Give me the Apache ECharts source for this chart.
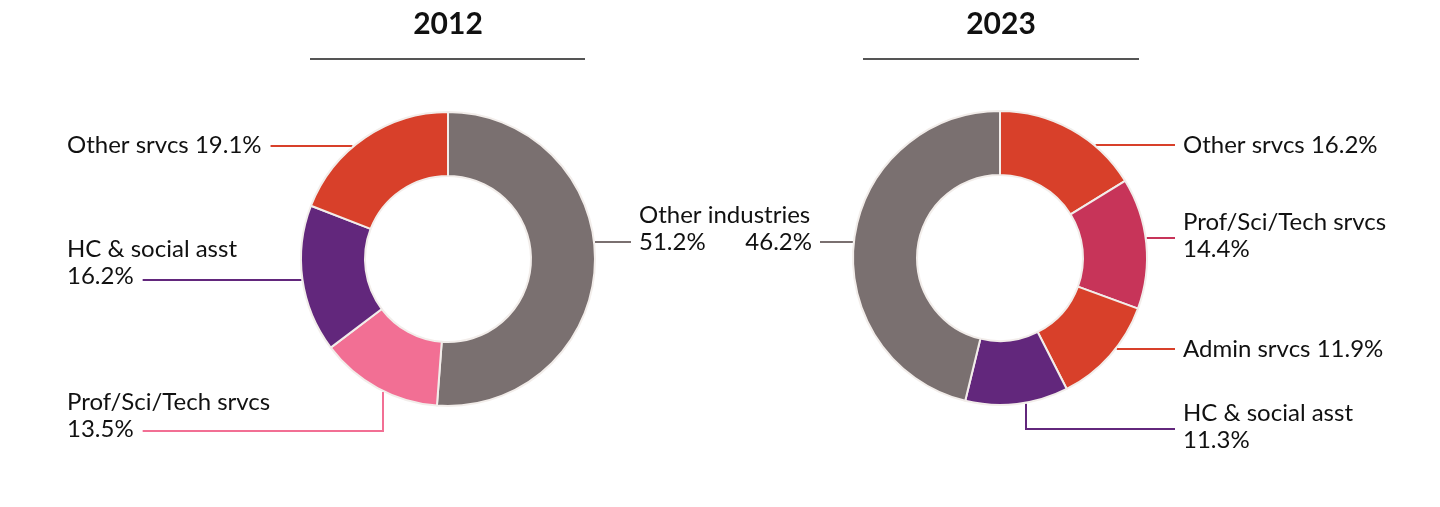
<!DOCTYPE html>
<html>
<head>
<meta charset="utf-8">
<script src="https://cdn.jsdelivr.net/npm/echarts@6/dist/echarts.min.js"></script>
<style>
  html, body { margin: 0; padding: 0; background: #fff; }
  #main { width: 1440px; height: 507px; }
</style>
</head>
<body>
<div id="main"></div>
<script>
// data
var years = ['2012', '2023'];
var names2012 = ['Other industries', 'Prof/Sci/Tech srvcs', 'HC & social asst', 'Other srvcs'];
var values2012 = [51.2, 13.5, 16.2, 19.1];
var names2023 = ['Other srvcs', 'Prof/Sci/Tech srvcs', 'Admin srvcs', 'HC & social asst', 'Other industries'];
var values2023 = [16.2, 14.4, 11.9, 11.3, 46.2];

var colors2012 = ['#7a7070', '#f26f94', '#62277c', '#d8402a'];
var colors2023 = ['#d8402a', '#c73459', '#d8402a', '#62277c', '#7a7070'];

var FONT = 'Lato';
var FONT_SIZE = 24;

// label placement: where text sits and where its leader line runs
var place2012 = [
    { x: 639, y: 229, align: 'left', lineY: 242, fmt: 'two' },
    { x: 67, y: 416, align: 'left', lineY: 431, elbowX: 383, fmt: 'two' },
    { x: 67, y: 263, align: 'left', lineY: 280, fmt: 'two' },
    { x: 67, y: 145, align: 'left', lineY: 146, fmt: 'one' }
];
var place2023 = [
    { x: 1183, y: 145, align: 'left', lineY: 145, fmt: 'one' },
    { x: 1183, y: 236, align: 'left', lineY: 238, fmt: 'two' },
    { x: 1183, y: 349, align: 'left', lineY: 349, fmt: 'one' },
    { x: 1183, y: 427, align: 'left', lineY: 429, elbowX: 1026, fmt: 'two' },
    { x: 812, y: 242, align: 'right', lineY: 242, fmt: 'value' }
];

var centers = [[448, 259], [1000, 258]];
var R_IN = 83, R_OUT = 147, R_EDGE = 148;

var ctx = document.createElement('canvas').getContext('2d');
ctx.font = FONT_SIZE + 'px ' + FONT;
function textW(s) { return ctx.measureText(s).width; }

function pct(v) { return v.toFixed(1) + '%'; }

function makeFormatter(place) {
    return function(p) {
        var f = place[p.dataIndex].fmt;
        if (f === 'two') return p.name + '\n' + pct(p.value);
        if (f === 'value') return pct(p.value);
        return p.name + ' ' + pct(p.value);
    };
}

function makeLayout(place, center, names, values) {
    return function(params) {
        var p = place[params.dataIndex];
        var cx = center[0], cy = center[1];
        var lastLine = p.fmt === 'one' ? names[params.dataIndex] + ' ' + pct(values[params.dataIndex]) : pct(values[params.dataIndex]);
        var end;
        if (p.x > cx) {
            end = p.align === 'left' ? p.x - 8 : p.x + 8;
        } else {
            end = p.align === 'left' ? p.x + textW(lastLine) + 9 : p.x + 8;
        }
        var pts;
        if (p.elbowX != null) {
            var dy = Math.sqrt(R_EDGE * R_EDGE - (p.elbowX - cx) * (p.elbowX - cx));
            pts = [[p.elbowX, cy + dy], [p.elbowX, p.lineY], [end, p.lineY]];
        } else {
            var dx = Math.sqrt(R_EDGE * R_EDGE - (p.lineY - cy) * (p.lineY - cy));
            var sx = end > cx ? cx + dx : cx - dx;
            pts = [[sx, p.lineY], [(sx + end) / 2, p.lineY], [end, p.lineY]];
        }
        return {
            x: p.x,
            y: p.y,
            align: p.align,
            verticalAlign: 'middle',
            labelLinePoints: pts
        };
    };
}

function buildSeries(names, values, colors, place, center) {
    return {
        type: 'pie',
        center: center,
        radius: [R_IN, R_OUT],
        startAngle: 90,
        clockwise: true,
        avoidLabelOverlap: false,
        emphasis: { disabled: true },
        itemStyle: { borderColor: '#f2edea', borderWidth: 2 },
        label: {
            show: true,
            position: 'outside',
            formatter: makeFormatter(place),
            color: '#111',
            fontFamily: FONT,
            fontSize: FONT_SIZE,
            lineHeight: 27
        },
        labelLine: { show: true, smooth: false, lineStyle: { width: 2 } },
        labelLayout: makeLayout(place, center, names, values),
        data: names.map(function(n, i) {
            return { name: n, value: values[i], itemStyle: { color: colors[i] } };
        })
    };
}

var myChart = echarts.init(document.getElementById('main'));
var option = {
    animation: false,
    backgroundColor: '#fff',
    title: [
        { text: years[0], left: 443, top: 4, textAlign: 'center',
          textStyle: { fontFamily: FONT, fontSize: 30, fontWeight: 'bold', color: '#111' } },
        { text: years[1], left: 996, top: 4, textAlign: 'center',
          textStyle: { fontFamily: FONT, fontSize: 30, fontWeight: 'bold', color: '#111' } }
    ],
    graphic: [
        { type: 'line', shape: { x1: 310, y1: 59, x2: 585, y2: 59 }, style: { stroke: '#555', lineWidth: 2 } },
        { type: 'line', shape: { x1: 863, y1: 59, x2: 1139, y2: 59 }, style: { stroke: '#555', lineWidth: 2 } }
    ],
    series: [
        buildSeries(names2012, values2012, colors2012, place2012, centers[0]),
        buildSeries(names2023, values2023, colors2023, place2023, centers[1])
    ]
};
myChart.setOption(option);
</script>
</body>
</html>
